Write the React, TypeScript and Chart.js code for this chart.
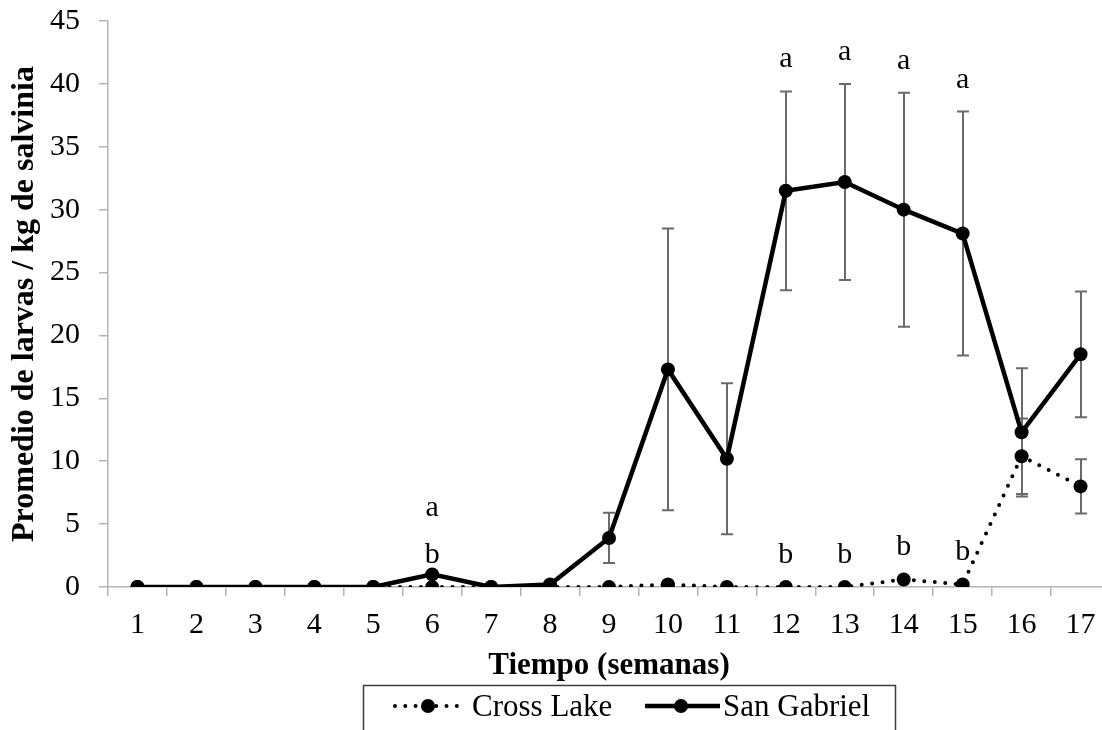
import React, { useEffect, useRef } from 'react';
import { Chart, registerables } from 'chart.js';

Chart.register(...registerables);

const weeks = ['1', '2', '3', '4', '5', '6', '7', '8', '9', '10', '11', '12', '13', '14', '15', '16', '17'];
const crossLake = [0, 0, 0, 0, 0, 0, 0, 0, 0, 0.2, 0, 0, 0, 0.6, 0.2, 10.4, 8.0];
const crossLakeError = [0, 0, 0, 0, 0, 0, 0, 0, 0, 0, 0, 0, 0, 0, 0, 3.0, 2.15];
const sanGabriel = [0, 0, 0, 0, 0, 1.0, 0, 0.2, 3.9, 17.3, 10.2, 31.5, 32.2, 30.0, 28.1, 12.3, 18.5];
const sanGabrielError = [0, 0, 0, 0, 0, 0, 0, 0, 2.0, 11.2, 6.0, 7.9, 7.8, 9.3, 9.7, 5.1, 5.0];
const crossLakeLetters = ['', '', '', '', '', 'b', '', '', '', '', '', 'b', 'b', 'b', 'b', '', ''];
const sanGabrielLetters = ['', '', '', '', '', 'a', '', '', '', '', '', 'a', 'a', 'a', 'a', '', ''];
const yMin = 0;
const yMax = 45;
const yStep = 5;
const seriesNames = ['Cross Lake', 'San Gabriel'];
const xTitle = 'Tiempo (semanas)';
const yTitle = 'Promedio de larvas / kg de salvinia';

const FONT = "'Liberation Serif', 'Times New Roman', serif";
const AXIS_GRAY = '#b4b4b4';
const ERR_GRAY = '#6a6a6a';

export default function App() {
  const ref = useRef<HTMLCanvasElement>(null);

  useEffect(() => {
    if (!ref.current) return;

    const errorBars = {
      id: 'errorBars',
      beforeDatasetsDraw(chart: any) {
        const { ctx, scales } = chart;
        const x = scales.x;
        const y = scales.y;
        ctx.save();
        ctx.strokeStyle = ERR_GRAY;
        ctx.lineWidth = 2;
        const draw = (vals: number[], errs: number[]) => {
          vals.forEach((v, i) => {
            const e = errs[i];
            if (!e) return;
            const px = Math.round(x.getPixelForValue(i));
            const top = y.getPixelForValue(v + e);
            const bot = y.getPixelForValue(v - e);
            ctx.beginPath();
            ctx.moveTo(px, top);
            ctx.lineTo(px, bot);
            ctx.moveTo(px - 6, top);
            ctx.lineTo(px + 6, top);
            ctx.moveTo(px - 6, bot);
            ctx.lineTo(px + 6, bot);
            ctx.stroke();
          });
        };
        draw(sanGabriel, sanGabrielError);
        draw(crossLake, crossLakeError);
        ctx.restore();
      },
    };

    const letters = {
      id: 'letters',
      afterDatasetsDraw(chart: any) {
        const { ctx, scales } = chart;
        const x = scales.x;
        const y = scales.y;
        ctx.save();
        ctx.font = `30px ${FONT}`;
        ctx.fillStyle = '#000';
        ctx.textAlign = 'center';
        ctx.textBaseline = 'alphabetic';
        weeks.forEach((_, i) => {
          const px = x.getPixelForValue(i);
          const clBase = y.getPixelForValue(crossLake[i] + crossLakeError[i]) - 24;
          if (crossLakeLetters[i]) ctx.fillText(crossLakeLetters[i], px, clBase);
          if (sanGabrielLetters[i]) {
            let b = y.getPixelForValue(sanGabriel[i] + sanGabrielError[i]) - 24;
            if (crossLakeLetters[i]) b = Math.min(b, clBase - 47);
            ctx.fillText(sanGabrielLetters[i], px, b);
          }
        });
        ctx.restore();
      },
    };

    const boxLegend = {
      id: 'boxLegend',
      afterDraw(chart: any) {
        const { ctx } = chart;
        ctx.save();
        ctx.strokeStyle = '#3c3c3c';
        ctx.lineWidth = 1.5;
        ctx.strokeRect(363.5, 685.5, 532, 80);
        const cy = 706;
        ctx.strokeStyle = '#000';
        ctx.lineWidth = 4;
        ctx.lineCap = 'round';
        ctx.setLineDash([0, 10.3]);
        ctx.beginPath();
        ctx.moveTo(395, cy);
        ctx.lineTo(458, cy);
        ctx.stroke();
        ctx.setLineDash([]);
        ctx.fillStyle = '#000';
        ctx.beginPath();
        ctx.arc(428, cy, 7, 0, Math.PI * 2);
        ctx.fill();
        ctx.lineWidth = 4.5;
        ctx.lineCap = 'butt';
        ctx.beginPath();
        ctx.moveTo(645, cy);
        ctx.lineTo(720, cy);
        ctx.stroke();
        ctx.beginPath();
        ctx.arc(681, cy, 7, 0, Math.PI * 2);
        ctx.fill();
        ctx.font = `31px ${FONT}`;
        ctx.textAlign = 'left';
        ctx.textBaseline = 'alphabetic';
        ctx.fillText(seriesNames[0], 472, 716);
        ctx.fillText(seriesNames[1], 723, 716);
        ctx.restore();
      },
    };

    const yTickValues: number[] = [];
    for (let v = yMin; v <= yMax; v += yStep) yTickValues.push(v);

    const chart = new Chart(ref.current, {
      type: 'line',
      data: {
        labels: weeks,
        datasets: [
          {
            label: seriesNames[0],
            data: crossLake,
            borderColor: '#000',
            backgroundColor: '#000',
            borderWidth: 4,
            borderDash: [0, 10.5],
            borderCapStyle: 'round',
            pointRadius: 7,
            pointBorderWidth: 0,
            pointBackgroundColor: '#000',
            tension: 0,
            fill: false,
          },
          {
            label: seriesNames[1],
            data: sanGabriel,
            borderColor: '#000',
            backgroundColor: '#000',
            borderWidth: 4.5,
            pointRadius: 7,
            pointBorderWidth: 0,
            pointBackgroundColor: '#000',
            tension: 0,
            fill: false,
          },
        ],
      },
      options: {
        responsive: false,
        animation: false,
        events: [],
        layout: { padding: { top: 21, right: 1, left: 0, bottom: 55 } },
        plugins: {
          legend: { display: false },
          tooltip: { enabled: false },
          title: { display: false },
        },
        scales: {
          x: {
            type: 'category',
            offset: true,
            grid: {
              display: true,
              drawOnChartArea: false,
              drawTicks: true,
              tickLength: 9,
              color: AXIS_GRAY,
              lineWidth: 1.5,
              offset: true,
            },
            border: { display: true, color: AXIS_GRAY, width: 1.5 },
            ticks: {
              color: '#000',
              font: { family: FONT, size: 30 },
              padding: 11,
              maxRotation: 0,
              autoSkip: false,
            },
            title: {
              display: true,
              text: xTitle,
              color: '#000',
              font: { family: FONT, size: 31, weight: 'bold' },
              padding: 0,
            },
            afterFit(scale: any) {
              scale.height = 98;
              scale.paddingLeft = 0;
              scale.paddingRight = 0;
            },
          },
          y: {
            type: 'linear',
            min: yMin,
            max: yMax,
            afterBuildTicks(scale: any) {
              scale.ticks = yTickValues.map((v) => ({ value: v }));
            },
            grid: {
              display: true,
              drawOnChartArea: false,
              drawTicks: true,
              tickLength: 9,
              color: AXIS_GRAY,
              lineWidth: 1.5,
            },
            border: { display: true, color: AXIS_GRAY, width: 1.5 },
            ticks: {
              color: '#000',
              font: { family: FONT, size: 30 },
              padding: 19,
            },
            title: {
              display: true,
              text: yTitle,
              color: '#000',
              font: { family: FONT, size: 32, weight: 'bold' },
              padding: { top: 6, bottom: 0 },
            },
            afterFit(scale: any) {
              scale.width = 108;
              scale.paddingTop = 0;
              scale.paddingBottom = 0;
            },
          },
        },
      },
      plugins: [errorBars, letters, boxLegend],
    } as any);

    return () => chart.destroy();
  }, []);

  return (
    <div
      style={{
        position: 'absolute',
        left: 0,
        top: 0,
        width: 1102,
        height: 730,
        overflow: 'hidden',
        background: '#fff',
      }}
    >
      <canvas ref={ref} width={1117} height={740} style={{ display: 'block', width: 1117, height: 740 }} />
    </div>
  );
}
